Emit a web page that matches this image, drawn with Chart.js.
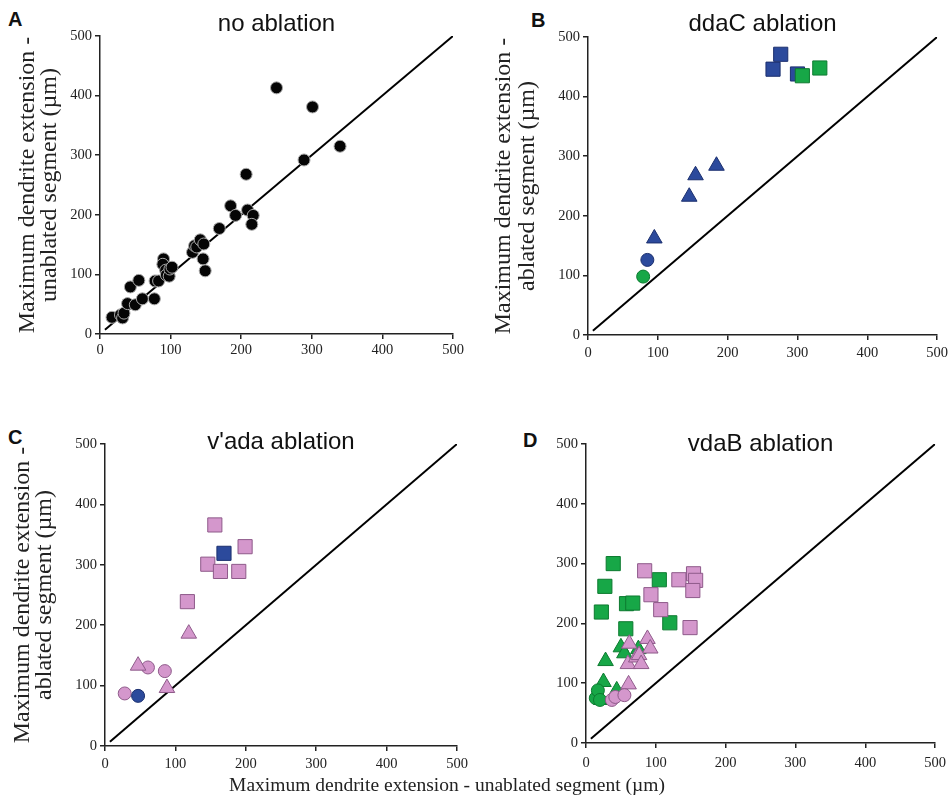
<!DOCTYPE html>
<html><head><meta charset="utf-8">
<script src="https://cdn.jsdelivr.net/npm/chart.js@4.4.1/dist/chart.umd.min.js"></script>
<style>
html,body{margin:0;padding:0;background:#fff;width:952px;height:803px;overflow:hidden;position:relative;}
canvas{position:absolute;}
.lbl{position:absolute;font-family:"Liberation Sans",Arial,sans-serif;font-weight:bold;font-size:20px;line-height:20px;color:#111;}
#xlab{position:absolute;left:447px;top:775px;transform:translateX(-50%);font-family:"Liberation Serif","Times New Roman",serif;font-size:19.5px;line-height:20px;white-space:nowrap;color:#222;}
</style></head><body>
<div class="lbl" style="left:8px;top:9px">A</div>
<div class="lbl" style="left:531px;top:10px">B</div>
<div class="lbl" style="left:8px;top:427px">C</div>
<div class="lbl" style="left:523px;top:430px">D</div>
<canvas id="cA" width="476" height="364" style="left:0;top:0"></canvas>
<canvas id="cB" width="476" height="365" style="left:476px;top:0"></canvas>
<canvas id="cC" width="476" height="376" style="left:0;top:400px"></canvas>
<canvas id="cD" width="476" height="373" style="left:476px;top:400px"></canvas>
<div id="xlab">Maximum dendrite extension - unablated segment (µm)</div>
<script>
// ---- data ----
const axisTicks = [0, 100, 200, 300, 400, 500];
const identityLine = [7, 500];

const panelTitles = ['no ablation', 'ddaC ablation', "v'ada ablation", 'vdaB ablation'];
const yTitleUnablated = ['Maximum dendrite extension -', 'unablated segment (µm)'];
const yTitleAblated = ['Maximum dendrite extension -', 'ablated segment (µm)'];

// A: no ablation
const noAbl_x = [17,29,32,34,39,43,50,55,60,77,78,83,90,89,93,94,98,99,102,131,134,137,142,147,146,149,169,185,192,207,209,217,215,250,289,301,340];
const noAbl_y = [28,32,27,35,51,79,49,90,59,59,89,89,126,117,107,99,97,109,112,137,148,146,158,151,126,106,177,215,199,268,208,199,184,413,292,381,315];

// B: ddaC ablation
const ddaC_blueSq_x = [265,276,300];
const ddaC_blueSq_y = [446,471,438];
const ddaC_greenSq_x = [307,332];
const ddaC_greenSq_y = [435,448];
const ddaC_blueTri_x = [95,145,154,184];
const ddaC_blueTri_y = [162,232,268,284];
const ddaC_blueCirc_x = [85];
const ddaC_blueCirc_y = [126];
const ddaC_greenCirc_x = [79];
const ddaC_greenCirc_y = [98];

// C: v'ada ablation
const vada_pinkSq_x = [156,146,164,190,199,117];
const vada_pinkSq_y = [366,301,289,289,330,239];
const vada_blueSq_x = [169];
const vada_blueSq_y = [319];
const vada_pinkTri_x = [119,47,88];
const vada_pinkTri_y = [186,133,96];
const vada_pinkCirc_x = [28,61,85];
const vada_pinkCirc_y = [87,130,124];
const vada_blueCirc_x = [47];
const vada_blueCirc_y = [83];

// D: vdaB ablation
const vdaB_greenSq_x = [39,27,22,57,58,67,105,120];
const vdaB_greenSq_y = [300,262,219,191,233,234,273,201];
const vdaB_pinkSq_x = [84,93,107,133,154,157,153,149];
const vdaB_pinkSq_y = [288,248,223,273,283,272,255,193];
const vdaB_greenTri_x = [28,25,50,55,75,44,22];
const vdaB_greenTri_y = [137,102,160,150,157,88,72];
const vdaB_pinkTri_x = [62,88,92,60,72,76,79,61];
const vdaB_pinkTri_y = [166,174,158,132,143,147,132,98];
const vdaB_greenCirc_x = [14,17,20];
const vdaB_greenCirc_y = [75,88,72];
const vdaB_pinkCirc_x = [37,42,55];
const vdaB_pinkCirc_y = [72,77,80];

// ---- styles ----
const COL = {
  blue:  {fill:'#2c4a9c', line:'#1b2f6e'},
  green: {fill:'#17a747', line:'#0d7a30'},
  pink:  {fill:'#d497cc', line:'#8e5a8a'},
  black: {fill:'#050505', line:'#a8a8a8'}
};
const SERIF = '"Liberation Serif","Times New Roman",serif';
const SANS = '"Liberation Sans",Arial,sans-serif';

function pts(xs, ys){ return xs.map((x,i)=>({x:x, y:ys[i]})); }
function series(xs, ys, color, shape, order, rad){
  const r = rad || (shape === 'rect' ? 10 : (shape === 'triangle' ? 9 : 6.5));
  return {data: pts(xs, ys), pointStyle: shape, pointRadius: r, pointHoverRadius: r,
    backgroundColor: COL[color].fill, borderColor: COL[color].line, borderWidth: 1, order: order};
}
function diag(){
  return {data: identityLine.map(v=>({x:v, y:v})), showLine:true, pointRadius:0, pointHoverRadius:0,
    borderColor:'#000', borderWidth:2, order:100};
}

function makePanel(id, o){
  const axisCommon = {
    min: axisTicks[0], max: axisTicks[axisTicks.length-1],
    grid: {display:true, drawOnChartArea:false, drawTicks:true, tickLength:5, color:'#222', lineWidth:1.5},
    border: {display:true, color:'#222', width:1.5}
  };
  new Chart(document.getElementById(id), {
    type: 'scatter',
    data: {datasets: o.datasets},
    options: {
      responsive:false, animation:false, devicePixelRatio:1,
      layout: {padding: {top:o.padTop, right:o.padRight, bottom:0, left:0}},
      plugins: {
        legend:{display:false}, tooltip:{enabled:false},
        title: {display:true, text:o.title, fullSize:false, color:'#111',
          font:{family:SANS, size:24, weight:'normal', lineHeight:1.0},
          padding:{top:0, bottom:o.titlePadBottom}}
      },
      scales: {
        x: Object.assign({}, axisCommon, {
          type:'linear', position:'bottom',
          afterBuildTicks: s => { s.ticks = axisTicks.map(v=>({value:v})); },
          ticks:{font:{family:SERIF, size:14.5}, color:'#222', padding:o.xTickPad, maxRotation:0, autoSkip:false},
          afterFit: s => { s.height = 30; }
        }),
        y: Object.assign({}, axisCommon, {
          type:'linear', position:'left',
          afterBuildTicks: s => { s.ticks = axisTicks.map(v=>({value:v})); },
          ticks:{font:{family:SERIF, size:14.5}, color:'#222', padding:3, autoSkip:false},
          title: o.yTitle ? {display:true, text:o.yTitle, color:'#222',
            font:{family:SERIF, size:24, lineHeight:o.yLH}, padding:{top:o.yTitlePad, bottom:0}} : {display:false},
          afterFit: s => { s.width = o.yWidth; }
        })
      }
    }
  });
}

makePanel('cA', {
  title: panelTitles[0], padTop:12, titlePadBottom:0, padRight:23, yWidth:100,
  yTitle: yTitleUnablated, yTitlePad:17, yLH:0.92, xTickPad:2,
  datasets: [diag(), series(noAbl_x, noAbl_y, 'black', 'circle', 1, 6)]
});
makePanel('cB', {
  title: panelTitles[1], padTop:12, titlePadBottom:1, padRight:13, yWidth:112,
  yTitle: yTitleAblated, yTitlePad:16, yLH:1.0, xTickPad:4,
  datasets: [diag(),
    series(ddaC_blueSq_x, ddaC_blueSq_y, 'blue', 'rect', 3),
    series(ddaC_greenSq_x, ddaC_greenSq_y, 'green', 'rect', 2),
    series(ddaC_blueTri_x, ddaC_blueTri_y, 'blue', 'triangle', 2),
    series(ddaC_blueCirc_x, ddaC_blueCirc_y, 'blue', 'circle', 2),
    series(ddaC_greenCirc_x, ddaC_greenCirc_y, 'green', 'circle', 1)]
});
makePanel('cC', {
  title: panelTitles[2], padTop:30, titlePadBottom:-10, padRight:19, yWidth:105,
  yTitle: yTitleAblated, yTitlePad:12, yLH:0.92, xTickPad:4,
  datasets: [diag(),
    series(vada_pinkSq_x, vada_pinkSq_y, 'pink', 'rect', 3),
    series(vada_blueSq_x, vada_blueSq_y, 'blue', 'rect', 2),
    series(vada_pinkTri_x, vada_pinkTri_y, 'pink', 'triangle', 2),
    series(vada_pinkCirc_x, vada_pinkCirc_y, 'pink', 'circle', 2),
    series(vada_blueCirc_x, vada_blueCirc_y, 'blue', 'circle', 1)]
});
makePanel('cD', {
  title: panelTitles[3], padTop:32, titlePadBottom:-12, padRight:13, yWidth:110,
  yTitle: null, xTickPad:6,
  datasets: [diag(),
    series(vdaB_greenSq_x, vdaB_greenSq_y, 'green', 'rect', 6),
    series(vdaB_pinkSq_x, vdaB_pinkSq_y, 'pink', 'rect', 5),
    series(vdaB_greenTri_x, vdaB_greenTri_y, 'green', 'triangle', 4),
    series(vdaB_pinkTri_x, vdaB_pinkTri_y, 'pink', 'triangle', 3),
    series(vdaB_greenCirc_x, vdaB_greenCirc_y, 'green', 'circle', 2),
    series(vdaB_pinkCirc_x, vdaB_pinkCirc_y, 'pink', 'circle', 1)]
});
</script>
</body></html>
